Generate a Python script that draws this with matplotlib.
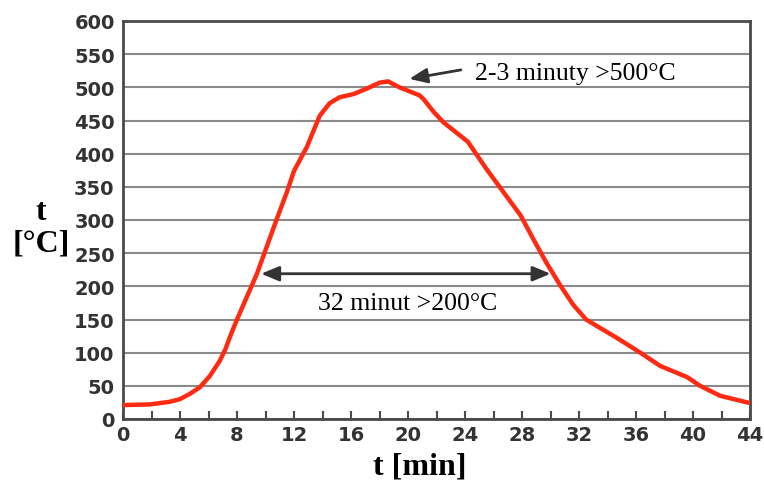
import matplotlib.pyplot as plt

# Krzywa temperatury
czas = [0, 1.9, 3.3, 4, 4.7, 5.4, 6.1, 6.8, 7.2, 7.6, 8, 9.4, 10.8, 11.5, 12, 12.9,
        13.8, 14.5, 15.2, 16.2, 17.1, 18.0, 18.6, 19.4, 20.8, 21.1, 21.8, 22.5, 24.2, 25.5,
        26.7, 27.9, 28.8, 29.7, 30.7, 31.6, 32.5, 33.5, 34.6, 36.3, 37.7, 39.6, 40.5, 41.9, 44]
temp = [21, 22, 26, 30, 38, 48, 65, 88, 106, 129, 150, 219, 302, 342, 374, 410,
        457, 476, 485, 490, 498, 507, 509, 500, 488, 482, 463, 447, 418, 377,
        342, 307, 271, 236, 201, 172, 150, 137, 123, 100, 80, 63, 50, 35, 24]

x_ticks = list(range(0, 45, 4))
y_ticks = list(range(0, 601, 50))

fig = plt.figure(figsize=(7.64, 4.85), dpi=100)
ax = fig.add_axes([123/764, 65/485, 627/764, 398/485])

ax.plot(czas, temp, color="#ff2a12", lw=3.2, solid_capstyle="round", solid_joinstyle="round", zorder=3)

ax.set_xlim(0, 44)
ax.set_ylim(0, 600)
ax.set_xticks(x_ticks)
ax.set_xticks(range(0, 45, 2), minor=True)
ax.set_yticks(y_ticks)
ax.yaxis.grid(True, color="#8a8a8a", lw=1.5)
ax.set_axisbelow(True)
for s in ax.spines.values():
    s.set_color("#4a4a4a")
    s.set_linewidth(2)

ax.tick_params(axis="x", which="both", direction="in", length=6, width=1.5, color="#4a4a4a",
               labelsize=14, pad=4, labelcolor="#333333")
ax.tick_params(axis="y", length=0, labelsize=14, pad=6, labelcolor="#333333")
for lbl in ax.get_xticklabels() + ax.get_yticklabels():
    lbl.set_fontweight("bold")
    lbl.set_family("DejaVu Sans")

fig.text(420/764, 1 - 467/485, "t [min]", family="Liberation Serif", fontweight="bold",
         fontsize=23, ha="center", va="center")
fig.text(41/764, 1 - 228/485, "t\n[°C]", family="Liberation Serif", fontweight="bold",
         fontsize=23, ha="center", va="center", linespacing=1.1)

# Adnotacje
ax.annotate("", xy=(19.9, 512), xytext=(23.9, 527),
            arrowprops=dict(arrowstyle="-|>,head_length=0.6,head_width=0.25", color="#333333",
                            lw=2, mutation_scale=18))
ax.text(24.7, 521, "2-3 minuty >500°C", family="Liberation Serif", fontsize=18.5, va="center")
ax.annotate("", xy=(9.5, 219), xytext=(30.2, 219),
            arrowprops=dict(arrowstyle="<|-|>,head_length=0.6,head_width=0.25", color="#333333",
                            lw=2, mutation_scale=18))
ax.text(20.0, 175, "32 minut >200°C", family="Liberation Serif", fontsize=18.5, ha="center", va="center")

fig.savefig("out.png", dpi=100)
